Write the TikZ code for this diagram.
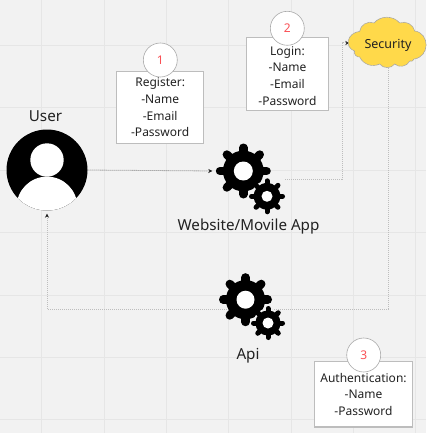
\documentclass[tikz,border=0pt]{standalone}
\usepackage{fontspec}
\setmainfont{Noto Sans}
\usetikzlibrary{arrows.meta}
\definecolor{bgc}{HTML}{F2F2F2}
\definecolor{gridc}{HTML}{E6E6E6}
\definecolor{boxc}{HTML}{BDBDBD}
\definecolor{cloudc}{HTML}{FFD94A}
\definecolor{numc}{HTML}{FA5055}
\definecolor{inkc}{HTML}{222222}
\tikzset{
  notebox/.style={draw=boxc,line width=1.1pt,fill=white,text=inkc,align=center,inner sep=0pt},
  numdisc/.style={circle,draw=boxc!90!black,line width=.6pt,fill=white,text=numc,minimum size=34pt,inner sep=0pt,font=\fontsize{12}{14}\selectfont},
  label/.style={text=inkc,inner sep=0pt},
  flow/.style={draw=boxc,line width=1pt,dash pattern=on 1pt off 1pt},
  flowthin/.style={draw=gray!90,line width=.8pt,dash pattern=on 1pt off 1pt},
  tip/.style={-{Stealth[length=4pt,width=4pt,color=inkc]}},
}
\newcommand{\gearshape}[5]{% x y outer hole toothwidth
  \fill[black] (#1,#2) circle ({#3*0.74});
  \foreach \a in {0,45,...,315}
    \draw[black,line width=#5pt,line cap=round] (#1,#2) -- ++(\a:{#3-#5/2});
  \fill[white] (#1,#2) circle (#4);
}
\begin{document}
\begin{tikzpicture}[x=1pt,y=-1pt]
\useasboundingbox (0,0) rectangle (426,433);
\fill[bgc] (0,0) rectangle (426,433);
\foreach \gx in {41.5,104,166.5,228.5,291,353,415}
  \draw[gridc,line width=1pt] (\gx,0) -- (\gx,433);
\foreach \gy in {46,108,170,232,295,357,419}
  \draw[gridc,line width=1pt] (0,\gy) -- (426,\gy);

% named anchors
\node[minimum size=81pt,circle,inner sep=0pt] (user) at (47,170) {};
\node[minimum size=62pt,circle,inner sep=0pt] (site) at (243.5,171) {};
\node[minimum width=77pt,minimum height=50pt,inner sep=0pt] (security) at (388,43) {};
\coordinate (siteout) at (285,179);
\coordinate (upturn) at (342,179);
\coordinate (downturn) at (388,309);

% connectors
\draw[flowthin,tip] (user.east) -- (site.west);
\draw[flow,tip] (siteout) -- (upturn) |- (security.west);
\draw[flow,tip,shorten >=3pt] (security.south) -- (downturn) -| (user.south);

% user avatar
\fill[black] (47,170) circle (40.5);
\begin{scope}
  \clip (47,170) circle (40.5);
  \fill[white] (47,207) circle (30.4);
\end{scope}
\fill[white] (47,160) circle (16.7);

% gears
\gearshape{243.3}{171}{27.5}{9.5}{8.5}
\fill[bgc] (267,196.3) circle (15.5);
\gearshape{267}{196.3}{18}{5.5}{5}
\gearshape{245.5}{299.7}{26.5}{9}{8.5}
\fill[bgc] (268,323) circle (14.5);
\gearshape{268}{323}{17}{5.5}{5}

% cloud
\filldraw[draw=gray!70,line width=.6pt,fill=cloudc,dash pattern=on 1pt off .4pt]
  (354.5,51) .. controls (344,47) and (347,33) .. (359.7,31.3)
  to[bend left=55] (374,23)
  to[bend left=50] (399.7,23) to[bend left=50] (414.7,31)
  .. controls (430,33) and (430,57) .. (414,59)
  to[bend left=60] (409.7,61) to[bend left=55] (394.7,64)
  to[bend left=55] (379.7,64) to[bend left=45] (359.7,57) to[bend left=60] cycle;
\node[label,font=\fontsize{12.5}{14}\selectfont] (securitytext) at (388,45) {Security};

% notes
\node[notebox,minimum width=87pt,minimum height=72.6pt,font=\fontsize{12}{16.7}\selectfont] (register) at (160.2,107.5) {Register:\\-Name\\-Email\\-Password};
\node[numdisc] (n1) at (160.3,60) {1};
\node[notebox,minimum width=81.6pt,minimum height=73pt,font=\fontsize{12}{16.7}\selectfont] (login) at (287.5,73.8) {\rule{0pt}{13pt}Login:\\-Name\\-Email\\-Password};
\node[numdisc] (n2) at (287.3,28.3) {2};
\node[notebox,minimum width=97.6pt,minimum height=65.3pt,font=\fontsize{12}{16.7}\selectfont] (auth) at (363.5,394.3) {Authentication:\\-Name\\-Password};
\node[numdisc] (n3) at (363.7,355) {3};

% labels
\node[label,font=\fontsize{15.2}{17}\selectfont] (userlabel) at (45.5,116.5) {User};
\node[label,font=\fontsize{15.2}{17}\selectfont] (sitelabel) at (248.5,226.5) {Website/Movile App};
\node[label,font=\fontsize{15.2}{17}\selectfont] (apilabel) at (248,355.5) {Api};
\end{tikzpicture}
\end{document}
